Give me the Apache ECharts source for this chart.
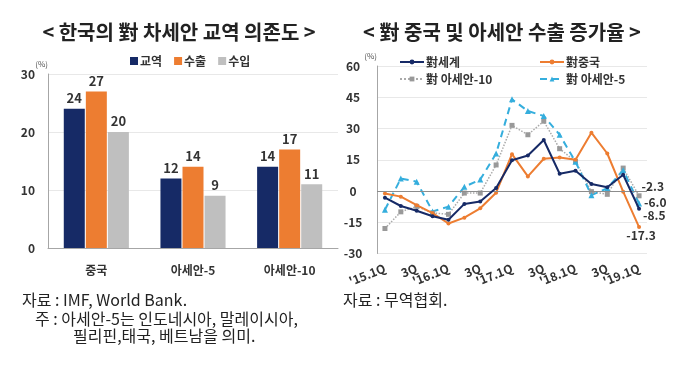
<!DOCTYPE html>
<html><head><meta charset="utf-8">
<script src="https://cdn.jsdelivr.net/npm/echarts@6/dist/echarts.min.js"></script>
<style>html,body{margin:0;padding:0;background:#fff}#c{width:680px;height:372px}</style>
</head><body><div id="c"></div>
<script>
// Left chart data
const barCategories = ['중국', '아세안-5', '아세안-10'];
const tradeVals = [24, 12, 14];
const exportVals = [27, 14, 17];
const importVals = [20, 9, 11];

// Right chart data
const quarters = ["'15.1Q","2Q","3Q","4Q","'16.1Q","2Q","3Q","4Q","'17.1Q","2Q","3Q","4Q","'18.1Q","2Q","3Q","4Q","'19.1Q"];
const worldVals  = [-3.2,-7.2,-9.5,-12.1,-13.8,-6.2,-5.0,1.4,14.8,17.0,24.5,8.3,9.7,3.4,1.8,7.8,-8.5];
const chinaVals  = [-1.2,-2.7,-6.8,-10.6,-15.6,-12.8,-8.3,-0.8,17.7,7.0,15.5,16.1,15.0,28.0,18.0,-0.3,-17.3];
const asean10Vals= [-18.0,-10.0,-7.4,-10.5,-11.2,-1.0,-1.0,12.5,31.5,27.0,33.5,20.3,14.2,-0.3,-1.6,11.0,-2.3];
const asean5Vals = [-9.0,6.0,4.5,-9.8,-7.5,2.0,5.5,18.0,44.0,38.4,36.0,27.0,14.0,-2.0,1.3,10.0,-6.0];

const FONT = '"Noto Sans CJK KR", "Noto Sans", sans-serif';
const NAVY = '#162A66', ORANGE = '#ED7D31', GRAY = '#BFBFBF', CYAN = '#35AEDD', DGRAY = '#999999';

function withEndLabel(arr, pos, offset) {
  return arr.map((v, i) => i === arr.length - 1 ? {
    value: v,
    label: { show: true, position: pos, distance: 2, offset: offset, formatter: v.toFixed(1),
      color: '#333', fontSize: 12, fontWeight: 'bold', fontFamily: FONT }
  } : v);
}

const chart = echarts.init(document.getElementById('c'));
const barLabel = { show: true, position: 'top', distance: 4, color: '#333', fontSize: 13, fontWeight: 'bold', fontFamily: FONT };
const lineLegendText = { color: '#333', fontSize: 12, fontWeight: 'bold', fontFamily: FONT, padding: [0,0,0,-3] };
const lineLegend = { itemWidth: 24, itemHeight: 6, textStyle: lineLegendText };

chart.setOption({
  animation: false,
  textStyle: { fontFamily: FONT },
  title: [
    { text: '< 한국의 對 차세안 교역 의존도 >', left: 174, top: 17, textAlign: 'center',
      textStyle: { fontSize: 20, fontWeight: 'bold', color: '#222', fontFamily: FONT } },
    { text: '< 對 중국 및 아세안 수출 증가율 >', left: 497, top: 17, textAlign: 'center',
      textStyle: { fontSize: 20, fontWeight: 'bold', color: '#222', fontFamily: FONT } }
  ],
  legend: [
    { data: ['교역','수출','수입'], left: 125, top: 50, icon: 'rect', itemWidth: 8, itemHeight: 8, itemGap: 12,
      textStyle: { color: '#333', fontSize: 12, fontWeight: 'bold', fontFamily: FONT, padding: [0,0,0,-3] } },
    Object.assign({ data: ['對세계'], left: 394, top: 51 }, lineLegend),
    Object.assign({ data: ['對중국'], left: 534, top: 51 }, lineLegend),
    Object.assign({ data: ['對 아세안-10'], left: 394, top: 68 }, lineLegend),
    Object.assign({ data: ['對 아세안-5'], left: 534, top: 68 }, lineLegend)
  ],
  grid: [
    { left: 48, right: 342, top: 74, bottom: 124 },
    { left: 377, right: 33, top: 66, bottom: 118.5 }
  ],
  xAxis: [
    { gridIndex: 0, type: 'category', data: barCategories,
      axisLine: { lineStyle: { color: '#A6A6A6' } }, axisTick: { show: false },
      axisLabel: { margin: 16, color: '#333', fontSize: 12, fontWeight: 'bold', fontFamily: FONT } },
    { gridIndex: 1, type: 'category', data: quarters, boundaryGap: true,
      axisLine: { show: false }, axisTick: { show: false },
      axisLabel: { interval: 1, rotate: 22, margin: 14, color: '#333', fontSize: 12, fontWeight: 'bold', fontFamily: FONT } }
  ],
  yAxis: [
    { gridIndex: 0, type: 'value', min: 0, max: 30, interval: 10,
      name: '(%)', nameLocation: 'end', nameGap: 4, nameTextStyle: { fontSize: 8, color: '#555', align: 'right' },
      axisLine: { show: true, lineStyle: { color: '#A6A6A6' } }, axisTick: { show: false },
      splitLine: { lineStyle: { color: '#E8E8E8' } },
      axisLabel: { margin: 13, color: '#333', fontSize: 12, fontWeight: 'bold', fontFamily: FONT } },
    { gridIndex: 1, type: 'value', min: -30, max: 60, interval: 15,
      name: '(%)', nameLocation: 'end', nameGap: 6, nameTextStyle: { fontSize: 8, color: '#555', align: 'right' },
      axisLine: { show: true, lineStyle: { color: '#A6A6A6' } }, axisTick: { show: false },
      splitLine: { lineStyle: { color: '#E8E8E8' } },
      axisLabel: { margin: 24, align: 'center', color: '#333', fontSize: 12, fontWeight: 'bold', fontFamily: FONT } }
  ],
  series: [
    { name: '교역', type: 'bar', xAxisIndex: 0, yAxisIndex: 0, data: tradeVals, barWidth: 21, barGap: '5%',
      itemStyle: { color: NAVY }, label: barLabel },
    { name: '수출', type: 'bar', xAxisIndex: 0, yAxisIndex: 0, data: exportVals, barWidth: 21, barGap: '5%',
      itemStyle: { color: ORANGE }, label: barLabel },
    { name: '수입', type: 'bar', xAxisIndex: 0, yAxisIndex: 0, data: importVals, barWidth: 21, barGap: '5%',
      itemStyle: { color: GRAY }, label: barLabel },
    { name: '對세계', type: 'line', xAxisIndex: 1, yAxisIndex: 1, z: 5,
      data: withEndLabel(worldVals, 'right', [0, 7]),
      symbol: 'circle', symbolSize: 4, lineStyle: { color: NAVY, width: 2 }, itemStyle: { color: NAVY },
      markLine: { silent: true, symbol: 'none', label: { show: false },
        lineStyle: { color: '#8C8C8C', width: 1, type: 'solid' }, data: [{ yAxis: 0 }] } },
    { name: '對중국', type: 'line', xAxisIndex: 1, yAxisIndex: 1, z: 4,
      data: withEndLabel(chinaVals, 'bottom', [2, -2]),
      symbol: 'circle', symbolSize: 4, lineStyle: { color: ORANGE, width: 2 }, itemStyle: { color: ORANGE } },
    { name: '對 아세안-10', type: 'line', xAxisIndex: 1, yAxisIndex: 1, z: 3,
      data: withEndLabel(asean10Vals, 'right', [-2, -9]),
      symbol: 'rect', symbolSize: 5, lineStyle: { color: '#AAAAAA', width: 1.5, type: 'dotted' }, itemStyle: { color: DGRAY } },
    { name: '對 아세안-5', type: 'line', xAxisIndex: 1, yAxisIndex: 1, z: 3,
      data: withEndLabel(asean5Vals, 'right', [0, -1]),
      symbol: 'triangle', symbolSize: 6, lineStyle: { color: CYAN, width: 2, type: [7, 5] }, itemStyle: { color: CYAN } }
  ],
  graphic: [
    { type: 'text', left: 22, top: 292, style: { text: '자료 : IMF, World Bank.', fill: '#222', font: '16px ' + FONT } },
    { type: 'text', left: 35, top: 311, style: { text: '주 : 아세안-5는 인도네시아, 말레이시아,', fill: '#222', font: '16px ' + FONT } },
    { type: 'text', left: 73, top: 328, style: { text: '필리핀,태국, 베트남을 의미.', fill: '#222', font: '16px ' + FONT } },
    { type: 'text', left: 343, top: 292, style: { text: '자료 : 무역협회.', fill: '#222', font: '16px ' + FONT } }
  ]
});
</script></body></html>
